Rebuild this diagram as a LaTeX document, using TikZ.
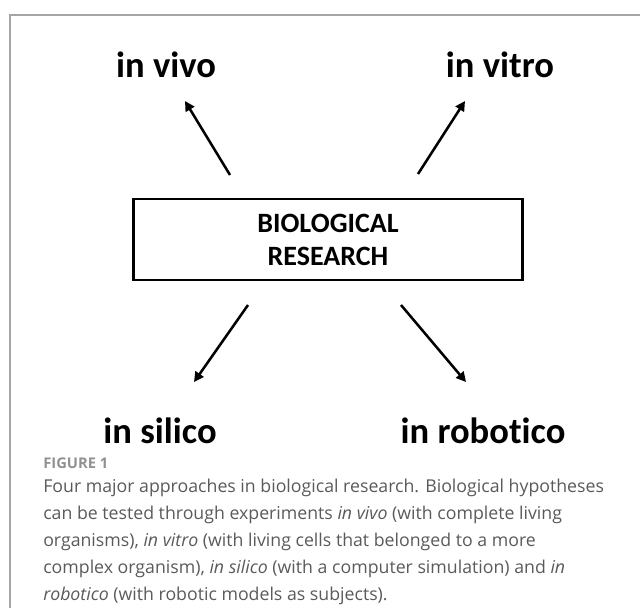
\documentclass[tikz,border=0pt]{standalone}
\usepackage{fontspec}
\usetikzlibrary{arrows.meta}
\newfontfamily\labelfont[Ligatures=NoCommon]{Carlito}
\newfontfamily\notefont{Open Sans}
\definecolor{FrameGray}{RGB}{165,165,165}
\definecolor{NoteGray}{RGB}{90,90,90}
\definecolor{TagGray}{RGB}{145,145,145}

\begin{document}
\begin{tikzpicture}[x=0.025cm,y=-0.025cm,
  approach/.style={font=\labelfont\bfseries\fontsize{26}{31}\selectfont,
                   anchor=base,inner sep=0pt},
  topic/.style={draw,line width=2.1pt,minimum width=9.7cm,minimum height=2.025cm,
                align=center,inner sep=0pt,
                font=\labelfont\bfseries\fontsize{19.9}{23.5}\selectfont},
  arrow/.style={line width=1.8pt,-{Triangle[length=7pt,width=7pt]}},
  tag/.style={font=\notefont\bfseries\fontsize{10.5}{12}\selectfont,text=TagGray,
              anchor=base west,inner sep=0pt},
  note/.style={font=\notefont\fontsize{12.6}{19.2}\selectfont,text=NoteGray,
               align=left,anchor=north west,inner sep=0pt},
]
\useasboundingbox (0,0) rectangle (640,608);
% panel edge
\draw[draw=FrameGray,line width=1pt] (10,608) -- (10,15) -- (640,15);

% centre box and the four approaches
\node[topic] (research) at (328,239.5) {BIOLOGICAL\\RESEARCH};
\node[approach] (vivo) at (166,77) {in vivo};
\node[approach] (vitro) at (500,77) {in vitro};
\node[approach] (silico) at (160,443) {in silico};
\node[approach] (robotico) at (483,443) {in robotico};

% arrow ends
\coordinate (vivo-from) at (230,175);
\coordinate (vivo-to) at (185,101);
\coordinate (vitro-from) at (418,174);
\coordinate (vitro-to) at (465,101);
\coordinate (silico-from) at (248,305);
\coordinate (silico-to) at (194,382);
\coordinate (robotico-from) at (401,305);
\coordinate (robotico-to) at (466,382);
\draw[arrow] (vivo-from) -- (vivo-to);
\draw[arrow] (vitro-from) -- (vitro-to);
\draw[arrow] (silico-from) -- (silico-to);
\draw[arrow] (robotico-from) -- (robotico-to);

% caption
\node[tag] (figno) at (43,468) {FIGURE 1};
\node[note] (legend) at (43,479) {Four major approaches in biological research. Biological hypotheses\\
  can be tested through experiments \textit{in vivo} (with complete living\\
  organisms), \textit{in vitro} (with living cells that belonged to a more\\
  complex organism), \textit{in silico} (with a computer simulation) and \textit{in}\\
  \textit{robotico} (with robotic models as subjects).};
\end{tikzpicture}
\end{document}
